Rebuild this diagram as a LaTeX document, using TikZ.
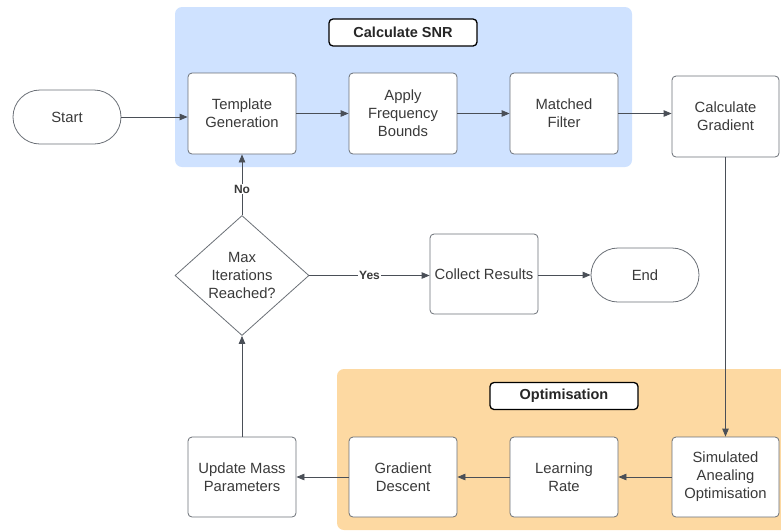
\documentclass[tikz,border=0pt]{standalone}
\usepackage{fontspec}
\setmainfont{Liberation Sans}
\usetikzlibrary{shapes.geometric,arrows.meta}
\definecolor{snrblue}{HTML}{CFE2FF}
\definecolor{optorange}{HTML}{FDD9A2}
\definecolor{edgegray}{HTML}{4A4F57}
\definecolor{boxgray}{HTML}{6B7077}
\definecolor{txt}{HTML}{3A3A3A}
\tikzset{
  x=1pt, y=-1pt,
  every node/.style={font=\fontsize{14.8}{18}\selectfont, text=txt},
  procbox/.style={draw=boxgray, line width=0.8pt, fill=white, rounded corners=4pt,
    minimum width=108pt, minimum height=81pt, align=center, inner sep=2pt},
  terminal/.style={draw=boxgray, line width=0.8pt, fill=white, rounded corners=27pt,
    minimum width=108pt, minimum height=54pt, align=center},
  decision/.style={diamond, draw=boxgray, line width=0.8pt, fill=white, aspect=1.117,
    minimum width=134pt, minimum height=120pt, inner sep=0pt, align=center},
  grouptitle/.style={draw=black, line width=1.3pt, fill=white, rounded corners=4pt,
    minimum width=148pt, minimum height=27pt, text=black!85,
    font=\bfseries\fontsize{14.5}{17}\selectfont},
  flow/.style={draw=edgegray, line width=0.8pt, -{Triangle[length=8pt,width=6.5pt]}},
  edgelabel/.style={fill=white, inner sep=1pt, font=\bfseries\fontsize{12}{14}\selectfont}
}
\begin{document}
\begin{tikzpicture}
\useasboundingbox (0,0) rectangle (781,531);

% group backgrounds
\fill[snrblue, rounded corners=7pt] (175,7) rectangle (632,167);
\fill[optorange, rounded corners=7pt] (337,369) rectangle (800,530);
\node[grouptitle] (snrtitle) at (403,32.5) {Calculate SNR};
\node[grouptitle] (opttitle) at (564,396) {Optimisation};

% process steps
\node[terminal] (start) at (67,117) {Start};
\node[procbox] (tmpl) at (242,113.5) {Template\\Generation};
\node[procbox] (freq) at (403,113.5) {Apply\\Frequency\\Bounds};
\node[procbox] (match) at (564,113.5) {Matched\\Filter};
\node[procbox, minimum width=107pt] (grad) at (725.5,116.5) {Calculate\\Gradient};
\node[procbox, minimum width=107pt, minimum height=80pt] (sa) at (725.5,477) {Simulated\\Anealing\\Optimisation};
\node[procbox, minimum height=80pt] (lr) at (564,477) {Learning\\Rate};
\node[procbox, minimum height=80pt] (gd) at (403,477) {Gradient\\Descent};
\node[procbox, minimum height=80pt] (upd) at (242,477) {Update Mass\\Parameters};
\node[decision] (maxit) at (242,275.5) {Max\\Iterations\\Reached?};
\node[procbox, minimum height=80pt] (collect) at (484,274) {Collect Results};
\node[terminal] (finish) at (645,275) {End};

% connectors
\draw[flow] (start.east) -- (start.east -| tmpl.west);
\draw[flow] (tmpl) -- (freq);
\draw[flow] (freq) -- (match);
\draw[flow] (match.east) -- (match.east -| grad.west);
\draw[flow] (grad.south) -- (sa.north);
\draw[flow] (sa) -- (lr);
\draw[flow] (lr) -- (gd);
\draw[flow] (gd) -- (upd);
\draw[flow] (upd.north) -- (maxit.south);
\draw[flow] (maxit.north) -- node[edgelabel, pos=0.43] {No} (tmpl.south);
\draw[flow] (maxit.east) -- node[edgelabel, pos=0.5] {Yes} (maxit.east -| collect.west);
\draw[flow] (collect.east |- finish) -- (finish.west);
\end{tikzpicture}
\end{document}
